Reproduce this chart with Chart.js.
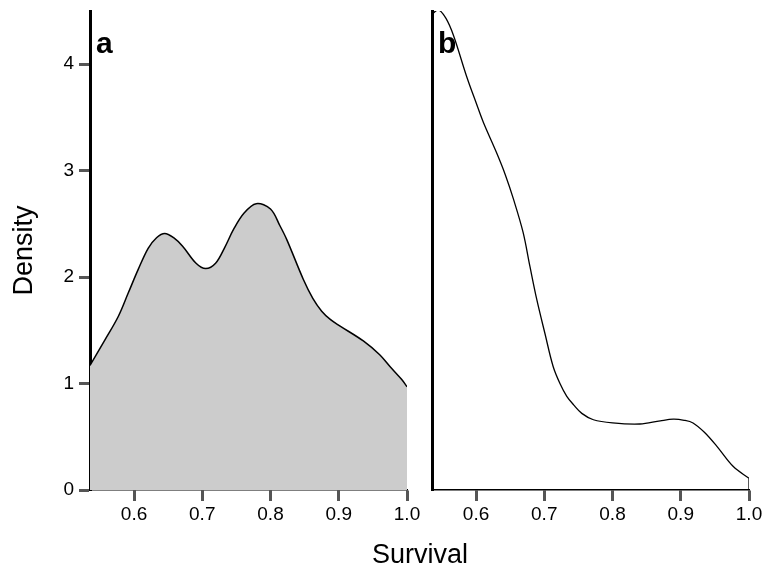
<!DOCTYPE html>
<html lang="en">
<head>
  <meta charset="UTF-8">
  <title>Survival density</title>
  <style>
    body {
      margin: 0;
      padding: 0;
      background: #fff;
      font-family: "Liberation Sans", Arial, sans-serif;
    }
    .stage {
      position: relative;
      width: 766px;
      height: 571px;
      overflow: hidden;
    }
    canvas {
      position: absolute;
      top: 0;
    }
    #chartA { left: 0; }
    #chartB { left: 400px; }
    #xTitle {
      position: absolute;
      left: 320px;
      width: 200px;
      top: 539px;
      text-align: center;
      font-size: 27px;
      color: #000;
    }
  </style>
</head>
<body>
  <div class="stage">
    <canvas id="chartA" width="440" height="571"></canvas>
    <canvas id="chartB" width="366" height="571"></canvas>
    <div id="xTitle">Survival</div>
  </div>

  <script src="https://cdn.jsdelivr.net/npm/chart.js@4.4.1/dist/chart.umd.min.js"></script>
  <script>
    // panel a: density of survival (filled)
    var survivalA = [0.5355, 0.5574, 0.5769, 0.5915, 0.606, 0.6207, 0.633, 0.645, 0.658, 0.6712, 0.6909, 0.705, 0.7195, 0.733, 0.746, 0.761, 0.779, 0.80, 0.814, 0.824, 0.848, 0.862, 0.875, 0.888, 0.902, 0.936, 0.96, 0.975, 0.992, 1.0];
    var densityA  = [1.17, 1.41, 1.63, 1.85, 2.07, 2.27, 2.37, 2.41, 2.37, 2.29, 2.13, 2.08, 2.13, 2.28, 2.45, 2.60, 2.69, 2.64, 2.48, 2.35, 1.98, 1.80, 1.68, 1.60, 1.54, 1.40, 1.27, 1.16, 1.04, 0.97];

    // panel b: density of survival (outline only)
    var survivalB = [0.5355, 0.545, 0.556, 0.567, 0.586, 0.60, 0.611, 0.630, 0.643, 0.655, 0.669, 0.679, 0.689, 0.701, 0.713, 0.723, 0.733, 0.743, 0.755, 0.772, 0.80, 0.84, 0.87, 0.889, 0.905, 0.918, 0.935, 0.953, 0.977, 1.0];
    var densityB  = [4.47, 4.51, 4.43, 4.27, 3.89, 3.64, 3.45, 3.17, 2.96, 2.73, 2.42, 2.10, 1.79, 1.47, 1.16, 1.00, 0.88, 0.80, 0.72, 0.66, 0.63, 0.62, 0.65, 0.665, 0.655, 0.63, 0.54, 0.41, 0.22, 0.11];

    var xTicks = [0.6, 0.7, 0.8, 0.9, 1.0];
    var yTicks = [0, 1, 2, 3, 4];
    var xRange = [0.5355, 1.0];
    var yRange = [0, 4.5];
    var panelLabels = ['a', 'b'];

    function toPoints(xs, ys) {
      return xs.map(function(x, i) { return { x: x, y: ys[i] }; });
    }

    // little "a" / "b" in the top left corner of each panel
    var panelLabelPlugin = {
      id: 'panelLabel',
      afterDatasetsDraw: function(chart, args, opts) {
        var ctx = chart.ctx;
        var area = chart.chartArea;
        ctx.save();
        ctx.font = 'bold 30px "Liberation Sans", Arial, sans-serif';
        ctx.fillStyle = '#000';
        ctx.textBaseline = 'alphabetic';
        ctx.fillText(opts.text, area.left + 6, area.top + 42);
        ctx.restore();
      }
    };

    var fontFamily = '"Liberation Sans", Arial, sans-serif';

    // keep chart.js from pushing the plot area in for the tick labels
    function noScalePadding(scale) {
      scale.paddingTop = 0;
      scale.paddingBottom = 0;
      scale.paddingLeft = 0;
      scale.paddingRight = 0;
    }

    function xScale() {
      return {
        type: 'linear',
        min: xRange[0],
        max: xRange[1],
        afterBuildTicks: function(scale) {
          scale.ticks = xTicks.map(function(v) { return { value: v }; });
        },
        afterFit: function(scale) {
          scale.height = 81;
          noScalePadding(scale);
        },
        grid: { drawOnChartArea: false, drawTicks: true, tickLength: 11, tickWidth: 3, tickColor: '#555' },
        border: { display: true, color: '#000', width: 1.5 },
        ticks: {
          color: '#000',
          font: { family: fontFamily, size: 19 },
          padding: 2,
          maxRotation: 0,
          callback: function(v) { return v.toFixed(1); }
        }
      };
    }

    function yScale(showTicks, width) {
      return {
        type: 'linear',
        min: yRange[0],
        max: yRange[1],
        afterBuildTicks: function(scale) {
          scale.ticks = yTicks.map(function(v) { return { value: v }; });
        },
        afterFit: function(scale) {
          scale.width = width;
          noScalePadding(scale);
        },
        grid: { display: showTicks, drawOnChartArea: false, drawTicks: true, tickLength: 11, tickWidth: 3, tickColor: '#555' },
        border: { display: true, color: '#000', width: 3 },
        ticks: { display: showTicks, color: '#000', font: { family: fontFamily, size: 19 }, padding: 5 },
        title: {
          display: showTicks,
          text: 'Density',
          color: '#000',
          font: { family: fontFamily, size: 27 },
          padding: { top: 8, bottom: 0 }
        }
      };
    }

    function baseOptions(label, yWidth, showYTicks, padRight) {
      return {
        responsive: false,
        devicePixelRatio: 1,
        animation: false,
        layout: { padding: { top: 11, right: padRight, bottom: 0, left: 0 } },
        plugins: {
          legend: { display: false },
          tooltip: { enabled: false },
          panelLabel: { text: label }
        },
        elements: { point: { radius: 0 }, line: { tension: 0.35 } },
        scales: {
          x: xScale(),
          y: yScale(showYTicks, yWidth)
        }
      };
    }

    new Chart(document.getElementById('chartA'), {
      type: 'line',
      data: {
        datasets: [{
          data: toPoints(survivalA, densityA),
          borderColor: '#000',
          borderWidth: 1.5,
          backgroundColor: '#cccccc',
          fill: 'origin'
        }, {
          // right edge of the polygon
          data: [{ x: survivalA[survivalA.length - 1], y: 0 }, { x: survivalA[survivalA.length - 1], y: densityA[densityA.length - 1] }],
          borderColor: '#000',
          borderWidth: 1.5,
          fill: false,
          tension: 0
        }]
      },
      options: baseOptions(panelLabels[0], 90, true, 33),
      plugins: [panelLabelPlugin]
    });

    new Chart(document.getElementById('chartB'), {
      type: 'line',
      data: {
        datasets: [{
          data: toPoints(survivalB, densityB),
          borderColor: '#000',
          borderWidth: 1.3,
          fill: false
        }, {
          data: [{ x: survivalB[survivalB.length - 1], y: 0 }, { x: survivalB[survivalB.length - 1], y: densityB[densityB.length - 1] }],
          borderColor: '#000',
          borderWidth: 1.3,
          fill: false,
          tension: 0
        }]
      },
      options: baseOptions(panelLabels[1], 32, false, 17),
      plugins: [panelLabelPlugin]
    });
  </script>
</body>
</html>
